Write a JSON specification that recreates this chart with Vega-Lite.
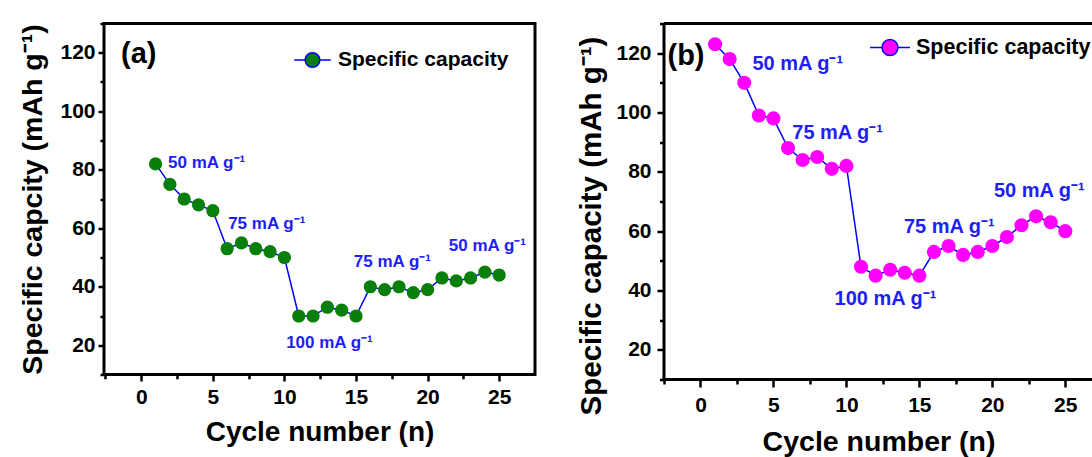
{
  "$schema": "https://vega.github.io/schema/vega-lite/v6.json",
  "padding": {"left": 16, "top": 20.5, "right": 0, "bottom": 0},
  "background": "white",
  "bounds": "flush",
  "spacing": 129,
  "datasets": {
    "seriesA": [
      {"cycle": 1, "capacity": 82, "series": "Specific capacity"},
      {"cycle": 2, "capacity": 75, "series": "Specific capacity"},
      {"cycle": 3, "capacity": 70, "series": "Specific capacity"},
      {"cycle": 4, "capacity": 68, "series": "Specific capacity"},
      {"cycle": 5, "capacity": 66, "series": "Specific capacity"},
      {"cycle": 6, "capacity": 53, "series": "Specific capacity"},
      {"cycle": 7, "capacity": 55, "series": "Specific capacity"},
      {"cycle": 8, "capacity": 53, "series": "Specific capacity"},
      {"cycle": 9, "capacity": 52, "series": "Specific capacity"},
      {"cycle": 10, "capacity": 50, "series": "Specific capacity"},
      {"cycle": 11, "capacity": 30, "series": "Specific capacity"},
      {"cycle": 12, "capacity": 30, "series": "Specific capacity"},
      {"cycle": 13, "capacity": 33, "series": "Specific capacity"},
      {"cycle": 14, "capacity": 32, "series": "Specific capacity"},
      {"cycle": 15, "capacity": 30, "series": "Specific capacity"},
      {"cycle": 16, "capacity": 40, "series": "Specific capacity"},
      {"cycle": 17, "capacity": 39, "series": "Specific capacity"},
      {"cycle": 18, "capacity": 40, "series": "Specific capacity"},
      {"cycle": 19, "capacity": 38, "series": "Specific capacity"},
      {"cycle": 20, "capacity": 39, "series": "Specific capacity"},
      {"cycle": 21, "capacity": 43, "series": "Specific capacity"},
      {"cycle": 22, "capacity": 42, "series": "Specific capacity"},
      {"cycle": 23, "capacity": 43, "series": "Specific capacity"},
      {"cycle": 24, "capacity": 45, "series": "Specific capacity"},
      {"cycle": 25, "capacity": 44, "series": "Specific capacity"}
    ],
    "seriesB": [
      {"cycle": 1, "capacity": 123, "series": "Specific capacity"},
      {"cycle": 2, "capacity": 118, "series": "Specific capacity"},
      {"cycle": 3, "capacity": 110, "series": "Specific capacity"},
      {"cycle": 4, "capacity": 99, "series": "Specific capacity"},
      {"cycle": 5, "capacity": 98, "series": "Specific capacity"},
      {"cycle": 6, "capacity": 88, "series": "Specific capacity"},
      {"cycle": 7, "capacity": 84, "series": "Specific capacity"},
      {"cycle": 8, "capacity": 85, "series": "Specific capacity"},
      {"cycle": 9, "capacity": 81, "series": "Specific capacity"},
      {"cycle": 10, "capacity": 82, "series": "Specific capacity"},
      {"cycle": 11, "capacity": 48, "series": "Specific capacity"},
      {"cycle": 12, "capacity": 45, "series": "Specific capacity"},
      {"cycle": 13, "capacity": 47, "series": "Specific capacity"},
      {"cycle": 14, "capacity": 46, "series": "Specific capacity"},
      {"cycle": 15, "capacity": 45, "series": "Specific capacity"},
      {"cycle": 16, "capacity": 53, "series": "Specific capacity"},
      {"cycle": 17, "capacity": 55, "series": "Specific capacity"},
      {"cycle": 18, "capacity": 52, "series": "Specific capacity"},
      {"cycle": 19, "capacity": 53, "series": "Specific capacity"},
      {"cycle": 20, "capacity": 55, "series": "Specific capacity"},
      {"cycle": 21, "capacity": 58, "series": "Specific capacity"},
      {"cycle": 22, "capacity": 62, "series": "Specific capacity"},
      {"cycle": 23, "capacity": 65, "series": "Specific capacity"},
      {"cycle": 24, "capacity": 63, "series": "Specific capacity"},
      {"cycle": 25, "capacity": 60, "series": "Specific capacity"}
    ],
    "annA": [
      {"cycle": 1.87, "capacity": 80.6, "label": "50 mA g⁻¹"},
      {"cycle": 6.07, "capacity": 59.7, "label": "75 mA g⁻¹"},
      {"cycle": 10.12, "capacity": 18.9, "label": "100 mA g⁻¹"},
      {"cycle": 14.85, "capacity": 46.9, "label": "75 mA g⁻¹"},
      {"cycle": 21.48, "capacity": 52.3, "label": "50 mA g⁻¹"}
    ],
    "annB": [
      {"cycle": 3.56, "capacity": 114.2, "label": "50 mA g⁻¹"},
      {"cycle": 6.29, "capacity": 91.2, "label": "75 mA g⁻¹"},
      {"cycle": 9.19, "capacity": 35.0, "label": "100 mA g⁻¹"},
      {"cycle": 13.94, "capacity": 59.3, "label": "75 mA g⁻¹"},
      {"cycle": 20.11, "capacity": 71.4, "label": "50 mA g⁻¹"}
    ],
    "tagA": [{"cycle": -1.41, "capacity": 116.6, "label": "(a)"}],
    "tagB": [{"cycle": -2.26, "capacity": 115.9, "label": "(b)"}]
  },
  "hconcat": [
    {
      "width": 431,
      "height": 351,
      "view": {"stroke": "black", "strokeWidth": 3},
      "encoding": {
        "x": {
          "field": "cycle", "type": "quantitative",
          "scale": {"domain": [-2.6, 27.5], "nice": false, "zero": false},
          "axis": {
            "title": "Cycle number (n)", "titleFontSize": 28, "titleY": 66, "titleBaseline": "alphabetic",
            "values": [-2.5, 0, 2.5, 5, 7.5, 10, 12.5, 15, 17.5, 20, 22.5, 25],
            "labelExpr": "datum.value % 5 === 0 ? '' + datum.value : ''",
            "tickSize": {"condition": {"test": "datum.value % 5 === 0", "value": 6.5}, "value": 4.3},
            "labelPadding": 5, "labelFontSize": 21
          }
        },
        "y": {
          "field": "capacity", "type": "quantitative",
          "scale": {"domain": [10, 130], "nice": false, "zero": false},
          "axis": {
            "title": "Specific capcity (mAh g⁻¹)", "titleFontSize": 28.5, "titleX": -57,
            "values": [10, 20, 30, 40, 50, 60, 70, 80, 90, 100, 110, 120, 130],
            "labelExpr": "datum.value % 20 === 0 ? '' + datum.value : ''",
            "tickSize": {"condition": {"test": "datum.value % 20 === 0", "value": 6}, "value": 4},
            "labelPadding": 3, "labelFontSize": 21
          }
        }
      },
      "layer": [
        {"data": {"name": "seriesA"}, "mark": {"type": "line", "color": "#0000ff", "strokeWidth": 1.5}, "encoding": {}},
        {
          "data": {"name": "seriesA"},
          "mark": {"type": "point", "filled": true, "opacity": 1, "size": 175},
          "encoding": {
            "color": {
              "field": "series", "type": "nominal",
              "scale": {"range": ["#087f08"]},
              "legend": {
                "title": null, "orient": "none", "legendX": 189, "legendY": 17,
                "symbolType": "M-1,0H-0.4M0.4,0H1M-0.4,0A0.4,0.4,0,1,0,0.4,0A0.4,0.4,0,1,0,-0.4,0Z",
                "symbolSize": 1340, "symbolStrokeColor": "#0000ff", "symbolStrokeWidth": 1.5,
                "labelFontSize": 21, "labelFont": "Liberation Sans", "labelFontWeight": "bold",
                "labelColor": "black", "labelOffset": 6, "padding": 0, "labelLimit": 0,
                "encode": {"symbols": {
                  "enter": {"stroke": {"value": "#0000ff"}, "strokeWidth": {"value": 1.5}, "strokeOpacity": {"value": 1}},
                  "update": {"stroke": {"value": "#0000ff"}, "strokeWidth": {"value": 1.5}, "strokeOpacity": {"value": 1}, "fill": {"value": "#087f08"}, "opacity": {"value": 1}}
                }}
              }
            }
          }
        },
        {
          "data": {"name": "annA"},
          "mark": {"type": "text", "align": "left", "baseline": "alphabetic", "font": "Liberation Sans", "fontWeight": "bold", "fontSize": 17, "color": "#1e1ef5"},
          "encoding": {"text": {"field": "label"}}
        },
        {
          "data": {"name": "tagA"},
          "mark": {"type": "text", "align": "left", "baseline": "alphabetic", "font": "Liberation Sans", "fontWeight": "bold", "fontSize": 29, "color": "black"},
          "encoding": {"text": {"field": "label"}}
        }
      ]
    },
    {
      "width": 429,
      "height": 356,
      "view": {"stroke": "black", "strokeWidth": 3, "strokeDash": [429, 356, 785, 0]},
      "encoding": {
        "x": {
          "field": "cycle", "type": "quantitative",
          "scale": {"domain": [-2.5, 26.9], "nice": false, "zero": false},
          "axis": {
            "title": "Cycle number (n)", "titleFontSize": 28.5, "titleY": 71, "titleBaseline": "alphabetic",
            "values": [-2.5, 0, 2.5, 5, 7.5, 10, 12.5, 15, 17.5, 20, 22.5, 25],
            "labelExpr": "datum.value % 5 === 0 ? '' + datum.value : ''",
            "tickSize": {"condition": {"test": "datum.value % 5 === 0", "value": 7.5}, "value": 4.5},
            "labelPadding": 7, "labelFontSize": 21
          }
        },
        "y": {
          "field": "capacity", "type": "quantitative",
          "scale": {"domain": [10, 130], "nice": false, "zero": false},
          "axis": {
            "title": "Specific capacity (mAh g⁻¹)", "titleFontSize": 29.5, "titleX": -58, "titleY": 202,
            "values": [10, 20, 30, 40, 50, 60, 70, 80, 90, 100, 110, 120, 130],
            "labelExpr": "datum.value % 20 === 0 ? '' + datum.value : ''",
            "tickSize": {"condition": {"test": "datum.value % 20 === 0", "value": 7}, "value": 4.5},
            "labelPadding": 6, "labelFontSize": 21
          }
        }
      },
      "layer": [
        {"data": {"name": "seriesB"}, "mark": {"type": "line", "color": "#0000ff", "strokeWidth": 1.5}, "encoding": {}},
        {
          "data": {"name": "seriesB"},
          "mark": {"type": "point", "filled": true, "opacity": 1, "size": 200},
          "encoding": {
            "color": {
              "field": "series", "type": "nominal",
              "scale": {"range": ["#ff00ff"]},
              "legend": {
                "title": null, "orient": "none", "legendX": 205, "legendY": 3,
                "symbolType": "M-1,0H-0.4M0.4,0H1M-0.4,0A0.4,0.4,0,1,0,0.4,0A0.4,0.4,0,1,0,-0.4,0Z",
                "symbolSize": 1600, "symbolStrokeColor": "#0000ff", "symbolStrokeWidth": 1.5,
                "labelFontSize": 21.5, "labelFont": "Liberation Sans", "labelFontWeight": "bold",
                "labelColor": "black", "labelOffset": 5, "padding": 0, "labelLimit": 0,
                "encode": {"symbols": {
                  "enter": {"stroke": {"value": "#0000ff"}, "strokeWidth": {"value": 1.5}, "strokeOpacity": {"value": 1}},
                  "update": {"stroke": {"value": "#0000ff"}, "strokeWidth": {"value": 1.5}, "strokeOpacity": {"value": 1}, "fill": {"value": "#ff00ff"}, "opacity": {"value": 1}}
                }}
              }
            }
          }
        },
        {
          "data": {"name": "annB"},
          "mark": {"type": "text", "align": "left", "baseline": "alphabetic", "font": "Liberation Sans", "fontWeight": "bold", "fontSize": 20, "color": "#1e1ef5"},
          "encoding": {"text": {"field": "label"}}
        },
        {
          "data": {"name": "tagB"},
          "mark": {"type": "text", "align": "left", "baseline": "alphabetic", "font": "Liberation Sans", "fontWeight": "bold", "fontSize": 29, "color": "black"},
          "encoding": {"text": {"field": "label"}}
        }
      ]
    }
  ],
  "resolve": {
    "scale": {"x": "independent", "y": "independent", "color": "independent"},
    "legend": {"color": "independent"}
  },
  "config": {
    "font": "Liberation Sans",
    "axis": {
      "labelFont": "Liberation Sans", "labelFontWeight": "bold", "labelColor": "black",
      "titleFont": "Liberation Sans", "titleFontWeight": "bold", "titleColor": "black",
      "grid": false, "domain": false, "tickColor": "black", "tickWidth": 2.5
    }
  }
}
